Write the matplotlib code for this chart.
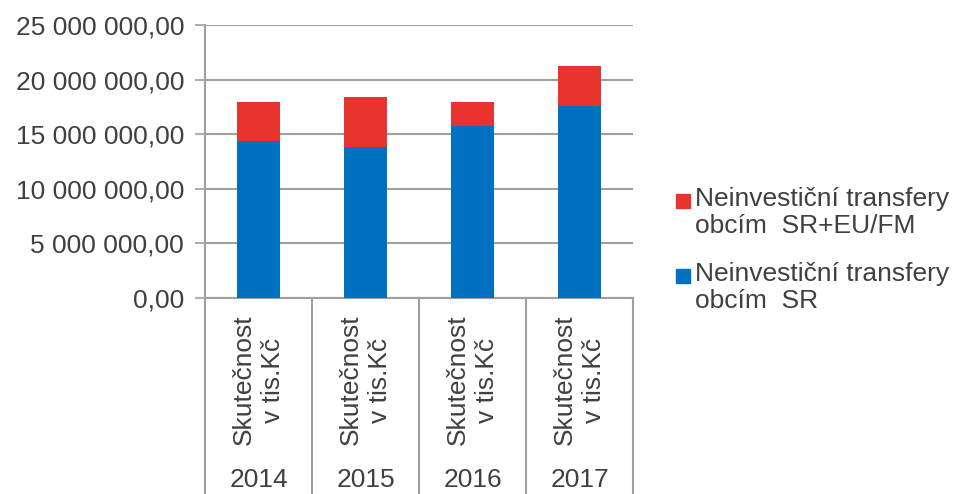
import matplotlib
matplotlib.use("Agg")
import matplotlib.pyplot as plt
from matplotlib.patches import Rectangle
from matplotlib.lines import Line2D
import numpy as np

plt.rcParams['font.family'] = ['Liberation Sans', 'DejaVu Sans']

years = ["2014", "2015", "2016", "2017"]
sublabel = "Skutečnost\nv tis.Kč"
series_names = ["Neinvestiční transfery\nobcím  SR",
                "Neinvestiční transfery\nobcím  SR+EU/FM"]
transfer_sr = [14_420_000, 13_810_000, 15_760_000, 17_620_000]
transfer_sr_eu = [3_540_000, 4_610_000, 2_160_000, 3_660_000]
colors = ["#0070C0", "#E8332F"]
yticks = [0, 5_000_000, 10_000_000, 15_000_000, 20_000_000, 25_000_000]

text_color = "#404040"
grid_color = "#A0A0A0"
fs = 19

W, H = 955, 494
fig = plt.figure(figsize=(W / 100, H / 100), dpi=100)
ax_l, ax_r, ax_t, ax_b = 205, 633, 25, 298
ax = fig.add_axes([ax_l / W, 1 - ax_b / H, (ax_r - ax_l) / W, (ax_b - ax_t) / H])

x = np.arange(len(years))
ax.bar(x, transfer_sr, width=0.4, color=colors[0], zorder=3)
ax.bar(x, transfer_sr_eu, width=0.4, bottom=transfer_sr, color=colors[1], zorder=3)

ax.set_xlim(-0.5, len(years) - 0.5)
ax.set_ylim(0, 25_000_000)
ax.set_yticks(yticks)
ax.set_yticklabels([f"{v:,.2f}".replace(",", " ").replace(".", ",") for v in yticks],
                   fontsize=fs, color=text_color)
ax.tick_params(axis='y', length=7, width=1.2, color=grid_color, pad=8)
ax.set_xticks([])
ax.yaxis.grid(True, color=grid_color, linewidth=1.5, zorder=0)
for side in ["top", "right", "bottom"]:
    ax.spines[side].set_visible(False)
ax.spines["left"].set_color(grid_color)
ax.spines["left"].set_linewidth(1.5)

# two-level category axis below the plot
trans = ax.get_xaxis_transform()
y_bottom = -(H - ax_b) / (ax_b - ax_t)
ax.add_line(Line2D([-0.5, len(years) - 0.5], [0, 0], transform=trans,
                   color=grid_color, linewidth=1.5, clip_on=False))
for b in np.arange(len(years) + 1) - 0.5:
    ax.add_line(Line2D([b, b], [0, y_bottom], transform=trans,
                       color=grid_color, linewidth=1.5, clip_on=False))
y_sub = -(380 - ax_b) / (ax_b - ax_t)
y_year = -(480 - ax_b) / (ax_b - ax_t)
for i, yr in enumerate(years):
    ax.text(i, y_sub, sublabel, transform=trans, rotation=90, ha='center',
            va='center', multialignment='center', fontsize=fs, color=text_color,
            linespacing=1.25)
    ax.text(i, y_year, yr, transform=trans, ha='center', va='center',
            fontsize=fs, color=text_color)

# legend
entries = [(series_names[1], colors[1], 201), (series_names[0], colors[0], 276)]
for name, col, yc in entries:
    fig.patches.append(Rectangle((676 / W, 1 - (yc + 7) / H), 14 / W, 14 / H,
                                 transform=fig.transFigure, color=col))
    fig.text(695 / W, 1 - (yc - 14) / H, name, ha='left', va='top',
             fontsize=fs, color=text_color, linespacing=1.15)

fig.savefig("out.png", dpi=100)
